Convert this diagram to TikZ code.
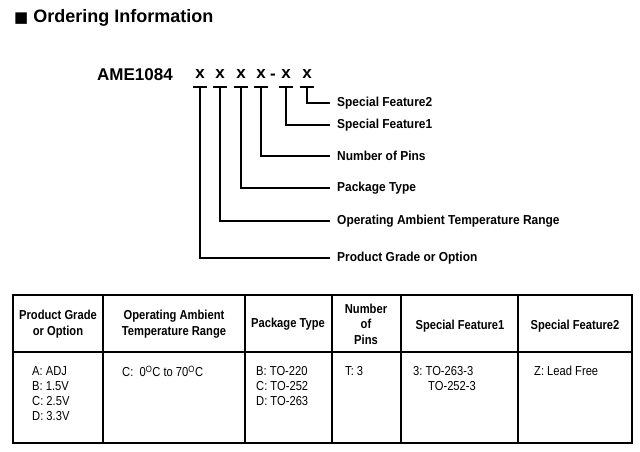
\documentclass[tikz,border=0pt]{standalone}
\usepackage{fontspec}
\setmainfont{Liberation Sans}
\newfontfamily\narrow[FakeStretch=0.86]{Liberation Sans}
\newfontfamily\semi[FakeStretch=0.92]{Liberation Sans}
\newfontfamily\djv{DejaVu Sans}
\begin{document}
\begin{tikzpicture}[x=1pt,y=-1pt,
  lead/.style={line width=2pt},
  lbl/.style={anchor=west,font=\bfseries\fontsize{13}{15}\selectfont\semi,inner sep=0},
  xl/.style={font=\bfseries\fontsize{17}{19}\selectfont,inner sep=0},
  hd/.style={font=\bfseries\fontsize{13}{15.5}\selectfont\narrow,align=center,inner sep=0},
  bd/.style={font=\fontsize{13}{15}\selectfont\narrow,align=left,anchor=north west,inner sep=0}]
\useasboundingbox (0,0) rectangle (640,452);
\node[anchor=west,inner sep=0,font=\bfseries\fontsize{18}{20}\selectfont] (title) at (14,18) {{\djv\fontsize{15}{16}\selectfont ■} Ordering Information};
\node[anchor=west,xl] (ame) at (97,75) {AME1084};
\foreach \n/\x in {1/200,2/220,3/241,4/261,5/286,6/307}{
  \node[xl] (x\n) at (\x,74) {x};
  \coordinate (u\n) at (\x,87);
  \draw[lead] (\x-7,87) -- (\x+7,87);
}
\node[xl] (dash) at (273,77) {-};
\foreach \n/\y/\t in {1/258/Product Grade or Option,2/221/Operating Ambient Temperature Range,3/188/Package Type,4/156/Number of Pins,5/125/Special Feature1,6/103/Special Feature2}{
  \node[lbl] (l\n) at (337,\y) {\t};
  \draw[lead] (u\n) |- ([xshift=-7pt]l\n.west);
}
% table
\draw[line width=1.5pt] (13,295) rectangle (632,443);
\draw[line width=1.2pt] (13,352) -- (632,352);
\foreach \x in {103,245,332,401,518}{\draw[line width=1.2pt] (\x,295) -- (\x,443);}
\node[hd] (h1) at (58,324) {Product Grade\\or Option};
\node[hd] (h2) at (174,324) {Operating Ambient\\Temperature Range};
\node[hd] (h3) at (288,324) {Package Type};
\node[hd] (h4) at (366,324) {Number\\of\\Pins};
\node[hd] (h5) at (460,326) {Special Feature1};
\node[hd] (h6) at (575,326) {Special Feature2};
\node[bd] (b1) at (32,366) {A:\ ADJ\\B:\ 1.5V\\C:\ 2.5V\\D:\ 3.3V};
\node[bd] (b2) at (122,366) {C:\ \ 0\textsuperscript{O}C to 70\textsuperscript{O}C};
\node[bd] (b3) at (256,366) {B:\ TO-220\\C:\ TO-252\\D:\ TO-263};
\node[bd] (b4) at (345,366) {T:\ 3};
\node[bd] (b5) at (413,366) {3:\ TO-263-3\\\hspace*{15pt}TO-252-3};
\node[bd] (b6) at (534,366) {Z:\ Lead Free};
\end{tikzpicture}
\end{document}
